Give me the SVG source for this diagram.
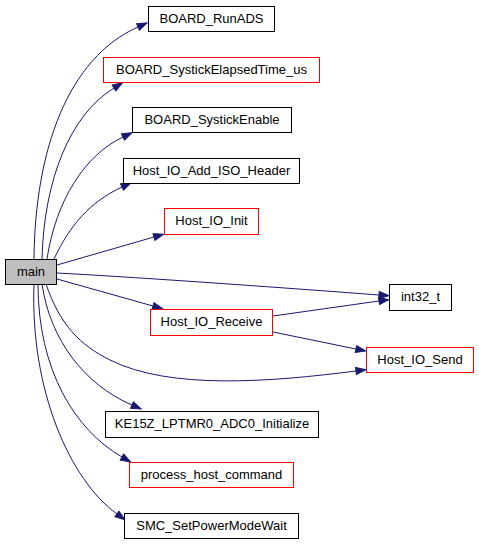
<svg xmlns="http://www.w3.org/2000/svg" width="479" height="544" viewBox="0 0 479 544">
<style>
.n rect{fill:#fff;stroke:#000;stroke-width:1}
.n.r rect{stroke:#ff0000}
.n.m rect{fill:#bfbfbf}
.n text{font-family:"Liberation Sans",Arial,sans-serif;font-size:13px;fill:#000;text-anchor:middle}
.e path{fill:none;stroke:#191970;stroke-width:1;marker-end:url(#ah)}
</style>
<defs>
<marker id="ah" markerUnits="userSpaceOnUse" markerWidth="12" markerHeight="9" refX="0" refY="3.5" orient="auto" overflow="visible">
<path d="M0,0 L10,3.5 L0,7 Z" fill="#191970" stroke="#191970" stroke-width="1"/>
</marker>
</defs>
<rect width="479" height="544" fill="#fff"/>
<g id="edges" class="e">
<path d="M34,259 C35,150 68,58 138,27"/>
<path d="M42,259 C44,180 70,115 114,88"/>
<path d="M47,259 C56,200 85,155 123,137"/>
<path d="M54,259 C70,225 90,202 122,187"/>
<path d="M57,265 L154,237"/>
<path d="M57,273 C150,278 300,289 379,295"/>
<path d="M57,279 L153,306"/>
<path d="M273,316 L379,301"/>
<path d="M273,332 L356,349"/>
<path d="M46,284 C60,325 80,345 110,360 C170,390 270,382 356,371"/>
<path d="M42,284 C50,340 85,385 132,405"/>
<path d="M38,284 C38,370 75,430 122,457"/>
<path d="M34,284 C30,390 70,480 117,514"/>
</g>
<g id="node-main" class="n m"><rect x="5.5" y="259.5" width="51" height="25"/><text x="31" y="275.5">main</text></g>
<g id="node-BOARD_RunADS" class="n"><rect x="148.5" y="6.5" width="126" height="25"/><text x="211.5" y="22.5">BOARD_RunADS</text></g>
<g id="node-BOARD_SystickElapsedTime_us" class="n r"><rect x="103.5" y="57.5" width="216" height="25"/><text x="211.5" y="73.5">BOARD_SystickElapsedTime_us</text></g>
<g id="node-BOARD_SystickEnable" class="n"><rect x="132.5" y="107.5" width="159" height="25"/><text x="212" y="123.5">BOARD_SystickEnable</text></g>
<g id="node-Host_IO_Add_ISO_Header" class="n"><rect x="123.5" y="158.5" width="176" height="25"/><text x="211.5" y="174.5">Host_IO_Add_ISO_Header</text></g>
<g id="node-Host_IO_Init" class="n r"><rect x="164.5" y="208.5" width="94" height="26"/><text x="211.5" y="225">Host_IO_Init</text></g>
<g id="node-int32_t" class="n"><rect x="389.5" y="284.5" width="62" height="26"/><text x="420.5" y="301">int32_t</text></g>
<g id="node-Host_IO_Receive" class="n r"><rect x="150.5" y="309.5" width="122" height="26"/><text x="211.5" y="326">Host_IO_Receive</text></g>
<g id="node-Host_IO_Send" class="n r"><rect x="366.5" y="347.5" width="107" height="25"/><text x="420" y="363.5">Host_IO_Send</text></g>
<g id="node-KE15Z_LPTMR0_ADC0_Initialize" class="n"><rect x="105.5" y="411.5" width="213" height="26"/><text x="212" y="428">KE15Z_LPTMR0_ADC0_Initialize</text></g>
<g id="node-process_host_command" class="n r"><rect x="129.5" y="462.5" width="164" height="25"/><text x="211.5" y="478.5">process_host_command</text></g>
<g id="node-SMC_SetPowerModeWait" class="n"><rect x="124.5" y="513.5" width="174" height="25"/><text x="211.5" y="529.5">SMC_SetPowerModeWait</text></g>
</svg>
